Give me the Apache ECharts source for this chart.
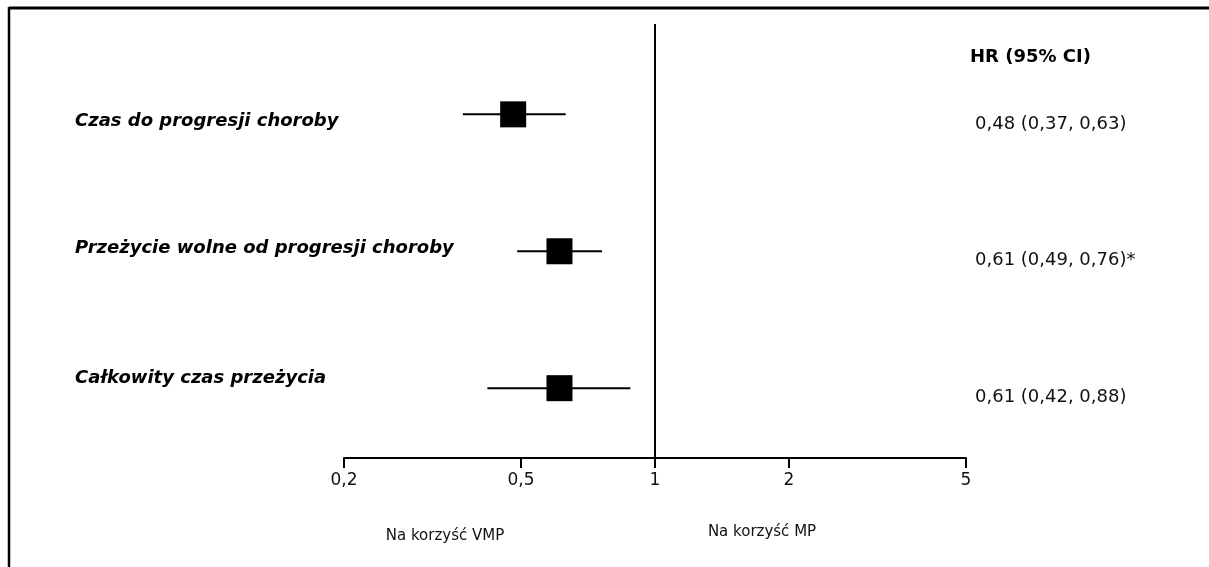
<!DOCTYPE html>
<html>
<head>
<meta charset="utf-8">
<script src="https://cdn.jsdelivr.net/npm/echarts@6/dist/echarts.min.js"></script>
<style>
html,body{margin:0;padding:0;background:#fff;}
#chart{width:1209px;height:567px;}
</style>
</head>
<body>
<div id="chart"></div>
<script>
// ---- data ----
const outcomes = ['Czas do progresji choroby', 'Przeżycie wolne od progresji choroby', 'Całkowity czas przeżycia'];
const rows = [1, 2, 3];
const hr = [0.48, 0.61, 0.61];
const ciLow = [0.37, 0.49, 0.42];
const ciHigh = [0.63, 0.76, 0.88];
const notes = ['', '*', ''];
const tickValues = [0.2, 0.5, 1, 2, 5];
const columnTitle = 'HR (95% CI)';
const favourLeft = 'Na korzyść VMP';
const favourRight = 'Na korzyść MP';

const FONT = 'DejaVu Sans';
const fmt = v => v.toFixed(2).replace('.', ',');
const labelOffsets = [7, -3, -10];
const valueOffsets = [10, 9, 9];

const seriesData = hr.map((v, i) => [v, ciLow[i], ciHigh[i], rows[i]]);

const chart = echarts.init(document.getElementById('chart'), null, {renderer: 'canvas'});
chart.setOption({
  backgroundColor: '#fff',
  animation: false,
  grid: {left: 344, right: 243, top: 24, bottom: 109},
  xAxis: {
    type: 'log',
    logBase: 10,
    min: 0.2,
    max: 5,
    axisLine: {show: true, lineStyle: {color: '#000', width: 2}},
    axisTick: {show: true, customValues: tickValues, length: 10, lineStyle: {color: '#000', width: 2}},
    axisLabel: {
      customValues: tickValues,
      formatter: v => String(v).replace('.', ','),
      fontFamily: FONT, fontSize: 17, color: '#111', margin: 14
    },
    splitLine: {show: false},
    minorTick: {show: false}
  },
  yAxis: {type: 'value', min: 0.34, max: 3.51, inverse: true, show: false},
  series: [{
    type: 'custom',
    data: seriesData,
    renderItem: function (params, api) {
      const i = params.dataIndex;
      const y = api.value(3);
      const pLo = api.coord([api.value(1), y]);
      const pHi = api.coord([api.value(2), y]);
      const pC = api.coord([api.value(0), y]);
      const s = 26;
      return {
        type: 'group',
        children: [
          {type: 'line', shape: {x1: pLo[0], y1: pLo[1], x2: pHi[0], y2: pHi[1]}, style: {stroke: '#000', lineWidth: 2}},
          {type: 'rect', shape: {x: pC[0] - s / 2, y: pC[1] - s / 2, width: s, height: s}, style: {fill: '#000'}},
          {type: 'text', style: {x: 75, y: pC[1] + labelOffsets[i], text: outcomes[i], fill: '#000',
            font: 'italic bold 18px "' + FONT + '"', textAlign: 'left', textVerticalAlign: 'middle'}},
          {type: 'text', style: {x: 975, y: pC[1] + valueOffsets[i],
            text: fmt(hr[i]) + ' (' + fmt(ciLow[i]) + ', ' + fmt(ciHigh[i]) + ')' + notes[i], fill: '#111',
            font: '18px "' + FONT + '"', textAlign: 'left', textVerticalAlign: 'middle'}}
        ]
      };
    },
    markLine: {
      silent: true,
      symbol: 'none',
      label: {show: false},
      lineStyle: {color: '#000', width: 2, type: 'solid'},
      data: [{xAxis: 1}]
    }
  }],
  graphic: [
    {type: 'line', shape: {x1: 9, y1: 8, x2: 1209, y2: 8}, style: {stroke: '#000', lineWidth: 3}},
    {type: 'line', shape: {x1: 9, y1: 7, x2: 9, y2: 567}, style: {stroke: '#000', lineWidth: 2.5}},
    {type: 'text', left: 970, top: 48, style: {text: columnTitle, fill: '#000', font: 'bold 18px "' + FONT + '"'}},
    {type: 'text', x: 445, y: 536, style: {text: favourLeft, fill: '#111', font: '15px "' + FONT + '"', textAlign: 'center', textVerticalAlign: 'middle'}},
    {type: 'text', x: 762, y: 532, style: {text: favourRight, fill: '#111', font: '15px "' + FONT + '"', textAlign: 'center', textVerticalAlign: 'middle'}}
  ]
});
</script>
</body>
</html>
